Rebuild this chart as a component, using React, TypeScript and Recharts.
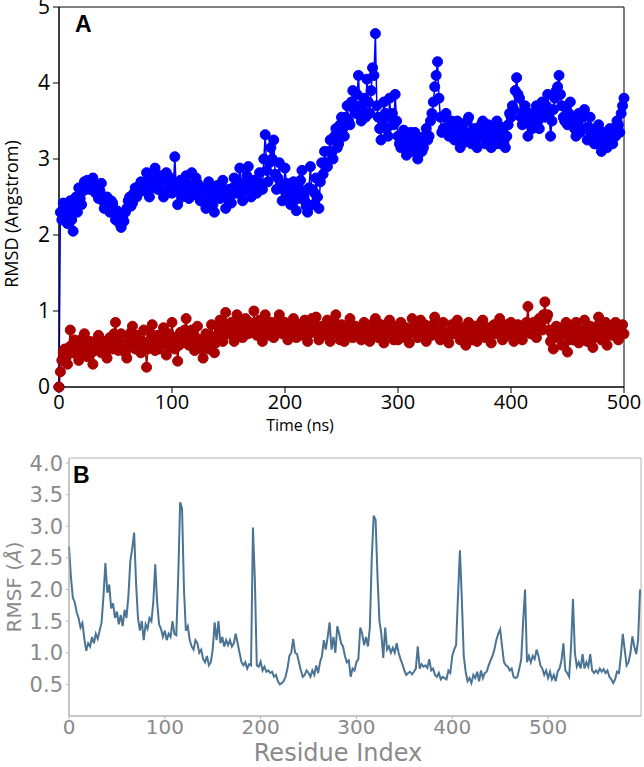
import { Label, Line, LineChart, ReferenceArea, XAxis, YAxis } from "recharts";

// RMSD trajectory, one frame every 1.25 ns (0..500 ns)
const frameStepNs = 1.25;

const proteinRmsd = [
  0.0, 2.3, 2.2, 2.42, 2.35, 2.25, 2.15, 2.3, 2.45, 2.2, 2.05, 2.38, 2.5, 2.3, 2.62, 2.48, 2.4, 2.58, 2.7, 2.6,
  2.72, 2.65, 2.6, 2.7, 2.75, 2.62, 2.55, 2.6, 2.48, 2.58, 2.68, 2.45, 2.35, 2.42, 2.5, 2.38, 2.3, 2.45, 2.42, 2.3,
  2.2, 2.32, 2.28, 2.15, 2.1, 2.25, 2.18, 2.3, 2.35, 2.45, 2.5, 2.38, 2.42, 2.55, 2.62, 2.5, 2.55, 2.65, 2.7, 2.58,
  2.6, 2.7, 2.82, 2.65, 2.5, 2.68, 2.75, 2.62, 2.88, 2.72, 2.6, 2.7, 2.78, 2.58, 2.5, 2.72, 2.82, 2.6, 2.65, 2.75,
  2.55, 2.65, 3.03, 2.62, 2.4, 2.58, 2.72, 2.5, 2.6, 2.7, 2.78, 2.55, 2.48, 2.65, 2.82, 2.6, 2.55, 2.75, 2.68, 2.5,
  2.45, 2.58, 2.62, 2.42, 2.35, 2.55, 2.7, 2.6, 2.5, 2.4, 2.3, 2.52, 2.65, 2.55, 2.48, 2.62, 2.72, 2.5, 2.35, 2.48,
  2.6, 2.5, 2.42, 2.62, 2.75, 2.6, 2.55, 2.7, 2.88, 2.62, 2.45, 2.58, 2.68, 2.78, 2.9, 2.65, 2.5, 2.62, 2.72, 2.58,
  2.55, 2.7, 2.82, 2.65, 2.6, 3.0, 3.32, 2.85, 2.7, 2.95, 3.15, 3.0, 3.25, 2.8, 2.6, 2.75, 2.95, 2.62, 2.45, 2.6,
  2.88, 2.68, 2.55, 2.45, 2.4, 2.6, 2.7, 2.5, 2.32, 2.48, 2.6, 2.72, 2.85, 2.55, 2.45, 2.38, 2.3, 2.62, 2.9, 2.6,
  2.4, 2.55, 2.75, 2.5, 2.35, 2.7, 2.95, 2.8, 3.1, 2.95, 2.9, 3.1, 3.25, 3.08, 3.0, 3.3, 3.4, 3.15, 3.2, 3.45,
  3.55, 3.4, 3.3, 3.55, 3.7, 3.5, 3.45, 3.75, 3.9, 3.65, 3.6, 3.85, 4.1, 3.7, 3.5, 3.65, 3.8, 3.55, 4.05, 3.75,
  3.6, 3.9, 4.2, 4.1, 4.65, 3.7, 3.55, 3.4, 3.25, 3.5, 3.75, 3.6, 3.4, 3.3, 3.8, 3.55, 3.6, 3.45, 3.85, 3.5,
  3.3, 3.2, 3.15, 3.3, 3.38, 3.2, 3.05, 3.18, 3.25, 3.35, 3.1, 3.22, 3.35, 3.12, 3.0, 3.2, 3.28, 3.1, 3.15, 3.3,
  3.4, 3.25, 3.3, 3.5, 3.6, 3.75, 3.95, 4.1, 4.28, 3.8, 3.55, 3.35, 3.4, 3.55, 3.6, 3.4, 3.3, 3.45, 3.5, 3.35,
  3.25, 3.4, 3.5, 3.3, 3.15, 3.35, 3.45, 3.22, 3.3, 3.5, 3.55, 3.35, 3.2, 3.32, 3.4, 3.25, 3.15, 3.3, 3.35, 3.45,
  3.5, 3.32, 3.2, 3.38, 3.45, 3.25, 3.15, 3.4, 3.3, 3.2, 3.5, 3.35, 3.2, 3.42, 3.35, 3.22, 3.15, 3.3, 3.45, 3.6,
  3.55, 3.7, 3.65, 3.9, 4.07, 3.85, 3.8, 3.55, 3.45, 3.62, 3.7, 3.5, 3.3, 3.48, 3.6, 3.4, 3.45, 3.6, 3.7, 3.5,
  3.4, 3.58, 3.75, 3.6, 3.55, 3.7, 3.85, 3.6, 3.3, 3.5, 3.65, 3.8, 3.9, 3.95, 4.1, 3.85, 3.7, 3.55, 3.5, 3.68,
  3.45, 3.6, 3.75, 3.5, 3.55, 3.4, 3.3, 3.48, 3.6, 3.35, 3.4, 3.55, 3.65, 3.4, 3.25, 3.42, 3.55, 3.3, 3.35, 3.2,
  3.2, 3.35, 3.45, 3.25, 3.1, 3.28, 3.35, 3.18, 3.15, 3.3, 3.4, 3.22, 3.2, 3.38, 3.3, 3.5, 3.45, 3.35, 3.6, 3.7,
  3.8,
];

const ligandRmsd = [
  0.0, 0.2, 0.35, 0.45, 0.5, 0.38, 0.3, 0.52, 0.75, 0.55, 0.45, 0.62, 0.6, 0.42, 0.35, 0.5, 0.55, 0.65, 0.7, 0.48,
  0.4, 0.55, 0.6, 0.45, 0.3, 0.48, 0.55, 0.62, 0.68, 0.5, 0.45, 0.58, 0.6, 0.45, 0.38, 0.52, 0.65, 0.55, 0.5, 0.7,
  0.85, 0.62, 0.48, 0.6, 0.7, 0.5, 0.55, 0.45, 0.38, 0.55, 0.65, 0.72, 0.8, 0.6, 0.5, 0.68, 0.62, 0.52, 0.45, 0.6,
  0.75, 0.55, 0.26, 0.5, 0.6, 0.7, 0.82, 0.62, 0.48, 0.58, 0.68, 0.5, 0.55, 0.65, 0.78, 0.6, 0.42, 0.58, 0.7, 0.52,
  0.85, 0.65, 0.5, 0.6, 0.34, 0.55, 0.72, 0.58, 0.6, 0.75, 0.9, 0.68, 0.55, 0.62, 0.75, 0.55, 0.48, 0.65, 0.8, 0.6,
  0.62, 0.5, 0.38, 0.55, 0.7, 0.6, 0.5, 0.68, 0.82, 0.62, 0.45, 0.58, 0.68, 0.78, 0.88, 0.7, 0.6, 0.8, 0.98, 0.75,
  0.7, 0.8, 0.85, 0.68, 0.6, 0.78, 0.95, 0.82, 0.75, 0.88, 0.65, 0.75, 0.9, 0.78, 0.7, 0.85, 0.82, 0.72, 1.0, 0.8,
  0.68, 0.78, 0.88, 0.72, 0.6, 0.8, 0.95, 0.85, 0.75, 0.68, 0.85, 0.72, 0.65, 0.78, 0.8, 0.88, 0.95, 0.8, 0.7, 0.82,
  0.85, 0.72, 0.62, 0.7, 0.78, 0.85, 0.9, 0.75, 0.65, 0.72, 0.82, 0.68, 0.7, 0.8, 0.88, 0.72, 0.6, 0.7, 0.8, 0.9,
  0.72, 0.82, 0.92, 0.75, 0.62, 0.72, 0.8, 0.7, 0.68, 0.78, 0.88, 0.72, 0.6, 0.7, 0.78, 0.85, 0.95, 0.8, 0.7, 0.62,
  0.82, 0.7, 0.6, 0.68, 0.75, 0.82, 0.9, 0.72, 0.65, 0.75, 0.8, 0.68, 0.7, 0.78, 0.62, 0.72, 0.85, 0.75, 0.72, 0.62,
  0.6, 0.7, 0.78, 0.85, 0.9, 0.72, 0.65, 0.75, 0.82, 0.68, 0.58, 0.68, 0.75, 0.82, 0.88, 0.72, 0.68, 0.62, 0.8, 0.72,
  0.62, 0.75, 0.85, 0.72, 0.7, 0.65, 0.78, 0.68, 0.58, 0.75, 0.9, 0.78, 0.72, 0.8, 0.65, 0.75, 0.88, 0.72, 0.7, 0.82,
  0.6, 0.72, 0.8, 0.7, 0.68, 0.82, 0.92, 0.78, 0.75, 0.68, 0.62, 0.75, 0.85, 0.72, 0.7, 0.65, 0.58, 0.72, 0.82, 0.7,
  0.7, 0.78, 0.88, 0.72, 0.62, 0.7, 0.78, 0.65, 0.55, 0.72, 0.85, 0.75, 0.68, 0.62, 0.8, 0.72, 0.6, 0.68, 0.75, 0.85,
  0.88, 0.72, 0.65, 0.75, 0.78, 0.68, 0.58, 0.7, 0.82, 0.75, 0.7, 0.8, 0.9, 0.72, 0.62, 0.7, 0.76, 0.82, 0.68, 0.75,
  0.85, 0.7, 0.6, 0.68, 0.72, 0.82, 0.8, 0.7, 0.62, 0.72, 0.78, 0.85, 1.06, 0.78, 0.7, 0.82, 0.85, 0.72, 0.65, 0.8,
  0.9, 0.82, 0.75, 0.95, 1.12, 0.9, 0.95, 0.75, 0.6, 0.7, 0.5, 0.65, 0.8, 0.72, 0.68, 0.78, 0.55, 0.7, 0.78, 0.85,
  0.46, 0.62, 0.72, 0.8, 0.62, 0.7, 0.85, 0.72, 0.58, 0.68, 0.75, 0.65, 0.88, 0.75, 0.6, 0.7, 0.8, 0.68, 0.52, 0.65,
  0.7, 0.8, 0.92, 0.75, 0.62, 0.7, 0.78, 0.85, 0.55, 0.68, 0.8, 0.72, 0.68, 0.78, 0.85, 0.7, 0.62, 0.72, 0.75, 0.82,
  0.7,
];

// RMSF per residue, every 2nd residue (0..596)
const residueStep = 2;

const rmsfValues = [
  2.68, 2.2, 1.87, 1.8, 1.64, 1.55, 1.4, 1.47, 1.22, 1.03,
  1.15, 1.1, 1.25, 1.15, 1.3, 1.22, 1.35, 1.48, 1.9, 2.42,
  1.95, 2.08, 1.7, 1.78, 1.55, 1.65, 1.45, 1.6, 1.42, 1.68,
  1.55, 1.9, 2.45, 2.65, 2.9, 2.1, 1.55, 1.35, 1.5, 1.2,
  1.45, 1.38, 1.55, 1.5, 1.8, 2.4, 1.8, 1.45, 1.38, 1.25,
  1.35, 1.2, 1.3, 1.25, 1.5, 1.3, 1.28, 2.2, 3.38, 3.28,
  2.0, 1.35, 1.42, 1.2, 1.1, 1.05, 1.2, 1.15, 1.0, 1.05,
  0.9, 0.85, 0.95, 0.8, 0.85, 1.05, 1.48, 1.2, 1.5, 1.15,
  1.25, 1.1, 1.2, 1.12, 1.2, 1.1, 1.15, 1.3, 1.15, 1.0,
  0.85, 0.8, 0.85, 0.75, 0.82, 0.8, 2.98, 2.15, 0.8, 0.78,
  0.86, 0.72, 0.78, 0.7, 0.72, 0.68, 0.7, 0.62, 0.65, 0.55,
  0.5, 0.52, 0.55, 0.62, 0.75, 0.95, 1.0, 1.22, 1.0, 0.98,
  0.85, 0.72, 0.62, 0.65, 0.72, 0.68, 0.62, 0.72, 0.65, 0.8,
  0.68, 0.85, 0.95, 1.2, 1.05, 1.25, 1.48, 1.05, 1.25, 1.0,
  1.42, 1.3, 1.15, 1.1, 0.95, 0.85, 0.88, 0.62, 0.75, 0.72,
  0.85, 0.9, 1.4, 1.3, 1.12, 1.25, 1.1, 1.4, 2.5, 3.17,
  3.1, 2.2, 1.5, 1.3, 0.92, 1.4, 1.05, 1.1, 1.0, 1.08,
  1.0, 1.15, 1.0, 0.9, 0.82, 0.72, 0.65, 0.68, 0.7, 0.66,
  0.7, 0.75, 1.1, 0.75, 0.82, 0.78, 0.8, 0.76, 0.9, 0.72,
  0.75, 0.65, 0.62, 0.68, 0.58, 0.62, 0.6, 0.58, 0.72, 0.68,
  0.95, 1.05, 1.12, 1.9, 2.62, 1.85, 0.95, 0.7, 0.55, 0.6,
  0.52, 0.65, 0.6, 0.7, 0.55, 0.72, 0.6, 0.68, 0.7, 0.8,
  0.88, 0.95, 1.05, 1.2, 1.3, 1.37, 1.1, 0.85, 0.8, 0.78,
  0.72, 0.75, 0.62, 0.6, 0.62, 0.75, 0.9, 1.5, 2.0, 0.85,
  0.95, 0.85, 0.95, 0.9, 1.05, 0.95, 0.8, 0.75, 0.65, 0.72,
  0.6, 0.7, 0.58, 0.65, 0.55, 0.7, 0.75, 0.88, 1.15, 0.72,
  0.68, 0.62, 1.1, 1.85, 1.0, 0.78, 0.85, 0.75, 0.98, 0.75,
  0.85, 0.78, 0.98, 0.72, 0.68, 0.72, 0.68, 0.75, 0.7, 0.74,
  0.68, 0.72, 0.62, 0.58, 0.52, 0.58, 0.7, 0.68, 0.95, 1.3,
  1.05, 0.8, 0.85, 1.0, 1.26, 1.1, 0.98, 1.2, 2.0,
];

const timeTicks = [0, 100, 200, 300, 400, 500];
const rmsdTicks = [0, 1, 2, 3, 4, 5];
const residueTicks = [0, 100, 200, 300, 400, 500];
const rmsfTicks = [0.5, 1.0, 1.5, 2.0, 2.5, 3.0, 3.5, 4.0];

const rmsdData = proteinRmsd.map((v, i) => ({
  time: i * frameStepNs,
  protein: v,
  ligand: ligandRmsd[i],
}));

const rmsfData = rmsfValues.map((v, i) => ({ residue: i * residueStep, rmsf: v }));

const fontA = "Open Sans";
const fontB = "DejaVu Sans";
const grey = "#8a8a8a";

export default function App() {
  return (
    <div style={{ position: "absolute", left: 0, top: 0, width: 644, height: 767, background: "#fff" }}>
      <div style={{ position: "absolute", left: 0, top: 0 }}>
        <LineChart width={644} height={440} data={rmsdData} margin={{ top: 7, right: 20, left: 0, bottom: 0 }}>
          <XAxis
            dataKey="time"
            type="number"
            domain={[0, 500]}
            ticks={timeTicks}
            interval={0}
            height={53}
            stroke="#000"
            tickSize={6}
            tickMargin={2}
            tick={{ fill: "#000", fontSize: 20, fontFamily: fontA }}
          >
            <Label
              content={() => (
                <text x={300} y={431} textAnchor="middle" fontSize={16} fontFamily={fontA} fill="#000">
                  Time (ns)
                </text>
              )}
            />
          </XAxis>
          <YAxis
            type="number"
            domain={[0, 5]}
            ticks={rmsdTicks}
            interval={0}
            width={59}
            stroke="#000"
            tickSize={6}
            tickMargin={3}
            tick={{ fill: "#000", fontSize: 21, fontFamily: fontA }}
          >
            <Label
              content={() => (
                <text
                  x={18}
                  y={214}
                  transform="rotate(-90 18 214)"
                  textAnchor="middle"
                  fontSize={18}
                  fontFamily={fontA}
                  fill="#000"
                >
                  RMSD (Angstrom)
                </text>
              )}
            />
          </YAxis>
          <ReferenceArea x1={0} x2={500} y1={0} y2={5} fill="none" stroke="#000" strokeWidth={1} />
          <Line
            type="linear"
            dataKey="protein"
            stroke="#0000ff"
            strokeWidth={1.5}
            dot={{ r: 5, fill: "#0000ff", stroke: "#0000ff", strokeWidth: 1 }}
            isAnimationActive={false}
          />
          <Line
            type="linear"
            dataKey="ligand"
            stroke="#aa0000"
            strokeWidth={1.5}
            dot={{ r: 5, fill: "#aa0000", stroke: "#aa0000", strokeWidth: 1 }}
            isAnimationActive={false}
          />
        </LineChart>
        <div
          style={{
            position: "absolute",
            left: 75,
            top: 10,
            fontFamily: "Liberation Sans",
            fontWeight: "bold",
            fontSize: 23,
            lineHeight: "28px",
          }}
        >
          A
        </div>
      </div>

      <div style={{ position: "absolute", left: 0, top: 440 }}>
        <LineChart width={644} height={327} data={rmsfData} margin={{ top: 18, right: 3, left: 0, bottom: 0 }}>
          <XAxis
            dataKey="residue"
            type="number"
            domain={[0, 597]}
            ticks={residueTicks}
            interval={0}
            height={51}
            stroke="#b4b4b4"
            tickSize={3}
            tickMargin={1}
            tick={{ fill: grey, fontSize: 20, fontFamily: fontB }}
          >
            <Label
              content={() => (
                <text x={338} y={321} textAnchor="middle" fontSize={24} fontFamily={fontB} fill={grey}>
                  Residue Index
                </text>
              )}
            />
          </XAxis>
          <YAxis
            type="number"
            domain={[0, 4.08]}
            ticks={rmsfTicks}
            interval={0}
            width={69}
            stroke="#b4b4b4"
            tickSize={3}
            tickMargin={3}
            tickFormatter={(v: number) => v.toFixed(1)}
            tick={{ fill: grey, fontSize: 21, fontFamily: fontB }}
          >
            <Label
              content={() => (
                <text
                  x={21}
                  y={147}
                  transform="rotate(-90 21 147)"
                  textAnchor="middle"
                  fontSize={20}
                  fontFamily={fontB}
                  fill={grey}
                >
                  RMSF (<tspan fontStyle="italic">Å</tspan>)
                </text>
              )}
            />
          </YAxis>
          <ReferenceArea x1={0} x2={597} y1={0} y2={4.08} fill="none" stroke="#b4b4b4" strokeWidth={1} />
          <Line
            type="linear"
            dataKey="rmsf"
            stroke="#4b7494"
            strokeWidth={2}
            dot={false}
            isAnimationActive={false}
          />
        </LineChart>
        <div
          style={{
            position: "absolute",
            left: 73,
            top: 21,
            fontFamily: "Liberation Sans",
            fontWeight: "bold",
            fontSize: 23,
            lineHeight: "28px",
          }}
        >
          B
        </div>
      </div>
    </div>
  );
}
